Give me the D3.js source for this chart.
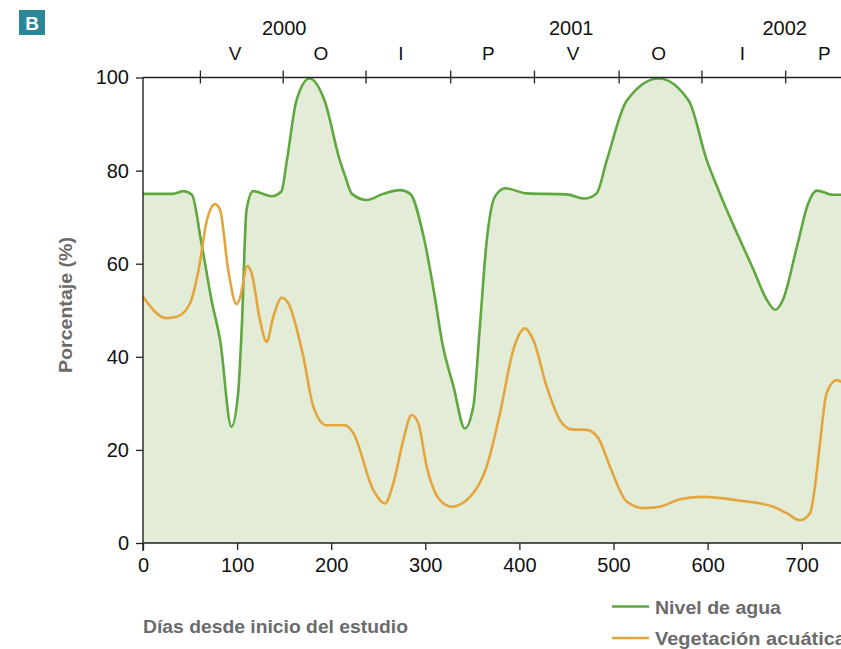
<!DOCTYPE html>
<html>
<head>
<meta charset="utf-8">
<script src="https://cdn.jsdelivr.net/npm/d3@7/dist/d3.min.js"></script>
<style>
  html, body { margin: 0; padding: 0; background: #fff; }
  svg { display: block; }
</style>
</head>
<body>
<svg id="chart" width="841" height="649"></svg>
<script>
// ---- DATA ----
const nivelAgua = [
  [0,75],[32,75],[43,75.6],[52,74.8],[62,64.5],[73,52],[82,43.5],[94,25],[101,32],[105,46.5],
  [110,71.5],[117,75.6],[137,74.5],[147,75.5],[153,82.3],[163,95],[177,99.8],[193,95],[209,82.3],
  [215,78.7],[222,75],[238,73.7],[255,75],[273,75.8],[284,75],[298,66],[310,53],[318,43],
  [330,33.6],[342,24.6],[351,29.3],[358,46.5],[365,64.4],[374,74.4],[385,76.2],[408,75.1],
  [450,74.9],[470,74],[482,75.1],[493,82.3],[514,95],[548,99.8],[580,95],[599,82.3],[613,75.1],
  [649,58.6],[663,52.2],[672,50.1],[680,52.2],[695,63.7],[707,73],[716,75.7],[734,74.8],[750,74.8]
];
const vegetacion = [
  [0,52.9],[25,48.3],[36,48.6],[50,51.5],[59,58.6],[68,69.4],[76.5,72.8],[82,71.5],[90.6,58.6],
  [99.5,51.3],[103,52.6],[110.8,59.5],[115.5,57.9],[124.3,47.9],[131.4,43.2],[138.5,48.6],
  [147.4,52.7],[154.4,51.5],[170.4,40],[181,29.3],[195,25.3],[214.7,25.3],[223.5,23.6],
  [244.7,11.4],[257.2,8.5],[266,12.8],[276.6,22.1],[285.5,27.5],[292.6,25.7],[301.5,16.4],
  [315.6,9.2],[328,7.8],[347.5,9.9],[365.2,16.4],[379.4,27.9],[393.5,41.5],[405.9,46.1],
  [414.8,43.6],[429,33.6],[443.1,26.4],[455.6,24.4],[471.5,24.3],[483.9,22.5],[496.3,16.4],
  [514,8.9],[531.7,7.5],[549.4,7.8],[570.7,9.4],[595.4,9.9],[630.9,9.2],[669.8,7.8],[684,6.4],
  [698.2,4.9],[708.8,6.4],[714.1,12.1],[719.4,21.4],[726.5,32.2],[737.2,35],[745,34.3]
];
const xTicks = [0,100,200,300,400,500,600,700];
const yTicks = [0,20,40,60,80,100];
const seasonTicks = [61,149,237,327,416,506,594,683];
const seasonLabels = [
  {d:98,t:"V"},{d:189,t:"O"},{d:274,t:"I"},{d:367,t:"P"},
  {d:457,t:"V"},{d:548,t:"O"},{d:637,t:"I"},{d:724,t:"P"}
];
const yearLabels = [{d:150,t:"2000"},{d:455,t:"2001"},{d:682,t:"2002"}];
const legendItems = [
  {t:"Nivel de agua", c:"#5ea83f"},
  {t:"Vegetación acuática", c:"#e3a53c"}
];

// ---- CHART ----
const svg = d3.select("#chart");
const W = 841;
const x = d3.scaleLinear().domain([0, 750]).range([143, 143 + 0.941 * 750]);
const y = d3.scaleLinear().domain([0, 100]).range([543, 77.5]);
const green = "#5ea83f", orange = "#e3a53c", fill = "#e2ecd7", axisC = "#222";
const font = "'Liberation Sans', Arial, sans-serif";

// area
svg.append("path")
  .datum(nivelAgua)
  .attr("d", d3.area().x(d => x(d[0])).y0(y(0)).y1(d => y(d[1])).curve(d3.curveMonotoneX))
  .attr("fill", fill);

// lines
svg.append("path")
  .datum(nivelAgua)
  .attr("d", d3.line().x(d => x(d[0])).y(d => y(d[1])).curve(d3.curveMonotoneX))
  .attr("fill", "none").attr("stroke", green).attr("stroke-width", 2.6);
svg.append("path")
  .datum(vegetacion)
  .attr("d", d3.line().x(d => x(d[0])).y(d => y(d[1])).curve(d3.curveMonotoneX))
  .attr("fill", "none").attr("stroke", orange).attr("stroke-width", 2.6);

// left axis
const gy = svg.append("g").attr("transform", `translate(${x(0)},0)`)
  .call(d3.axisLeft(y).tickValues(yTicks).tickSize(7).tickSizeOuter(0).tickPadding(7));
gy.select(".domain").remove();
gy.selectAll("line").attr("stroke", axisC).attr("stroke-width", 1.3);
gy.selectAll("text").attr("font-family", font).attr("font-size", 20).attr("fill", "#111");
svg.append("line").attr("x1", x(0)).attr("x2", x(0)).attr("y1", y(100)).attr("y2", y(0) + 8)
  .attr("stroke", axisC).attr("stroke-width", 1.4);

// bottom axis
const gx = svg.append("g").attr("transform", `translate(0,${y(0)})`)
  .call(d3.axisBottom(x).tickValues(xTicks).tickSize(7).tickSizeOuter(0).tickPadding(8));
gx.select(".domain").remove();
gx.selectAll("line").attr("stroke", axisC).attr("stroke-width", 1.3);
gx.selectAll("text").attr("font-family", font).attr("font-size", 20).attr("fill", "#111");
svg.append("line").attr("x1", x(0)).attr("x2", W).attr("y1", y(0)).attr("y2", y(0))
  .attr("stroke", axisC).attr("stroke-width", 1.4);

// top axis (seasons)
svg.append("line").attr("x1", x(0)).attr("x2", W).attr("y1", y(100)).attr("y2", y(100))
  .attr("stroke", axisC).attr("stroke-width", 1.4);
svg.selectAll(".stick").data(seasonTicks).enter().append("line")
  .attr("x1", d => x(d)).attr("x2", d => x(d))
  .attr("y1", y(100) - 7).attr("y2", y(100) + 6)
  .attr("stroke", axisC).attr("stroke-width", 1.3);
svg.selectAll(".slab").data(seasonLabels).enter().append("text")
  .attr("x", d => x(d.d)).attr("y", 60).attr("text-anchor", "middle")
  .attr("font-family", font).attr("font-size", 19).attr("fill", "#111").text(d => d.t);
svg.selectAll(".ylab").data(yearLabels).enter().append("text")
  .attr("x", d => x(d.d)).attr("y", 35).attr("text-anchor", "middle")
  .attr("font-family", font).attr("font-size", 20).attr("fill", "#111").text(d => d.t);

// badge
svg.append("rect").attr("x", 19).attr("y", 10).attr("width", 26).attr("height", 25).attr("fill", "#2a8797");
svg.append("text").attr("x", 32).attr("y", 30).attr("text-anchor", "middle")
  .attr("font-family", font).attr("font-weight", "bold").attr("font-size", 19).attr("fill", "#fff").text("B");

// axis titles
svg.append("text").attr("transform", "translate(72,305) rotate(-90)")
  .attr("text-anchor", "middle").attr("font-family", font).attr("font-weight", "bold")
  .attr("font-size", 18).attr("fill", "#6b6b6b")
  .attr("textLength", 136).attr("lengthAdjust", "spacingAndGlyphs")
  .text("Porcentaje (%)");
svg.append("text").attr("x", 143).attr("y", 633)
  .attr("font-family", font).attr("font-weight", "bold").attr("font-size", 18).attr("fill", "#6b6b6b")
  .attr("textLength", 265).attr("lengthAdjust", "spacingAndGlyphs")
  .text("Días desde inicio del estudio");

// legend
const lg = svg.selectAll(".lg").data(legendItems).enter().append("g")
  .attr("transform", (d, i) => `translate(0,${606.5 + i * 31.5})`);
lg.append("line").attr("x1", 612).attr("x2", 649).attr("y1", 0).attr("y2", 0)
  .attr("stroke", d => d.c).attr("stroke-width", 2.6);
lg.append("text").attr("x", 655).attr("y", 7)
  .attr("font-family", font).attr("font-weight", "bold").attr("font-size", 19).attr("fill", "#6b6b6b")
  .attr("textLength", (d, i) => i === 0 ? 126 : 191).attr("lengthAdjust", "spacingAndGlyphs")
  .text(d => d.t);
</script>
</body>
</html>
